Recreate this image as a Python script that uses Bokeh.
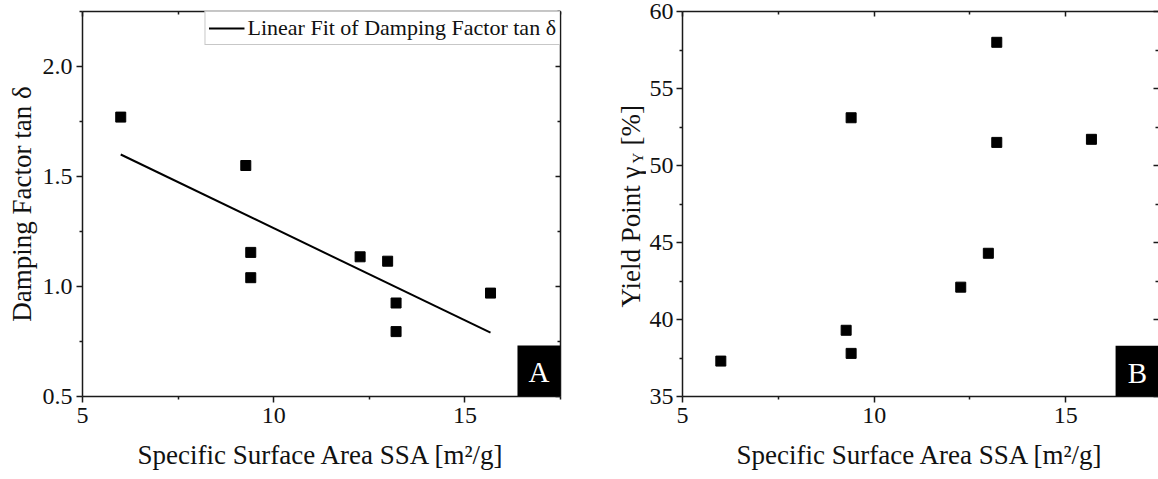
from bokeh.plotting import figure
from bokeh.models import (Range1d, LinearAxis, FixedTicker, PrintfTickFormatter,
                          Legend, LegendItem, BoxAnnotation, Label,
                          CustomLabelingPolicy)
from bokeh.layouts import row
from bokeh.embed import file_html
from bokeh.resources import INLINE
import math

# ---------------- data ----------------
ssa = [6.0, 9.27, 9.4, 9.4, 12.26, 12.98, 13.2, 13.2, 15.67]
tan_delta = [1.77, 1.55, 1.155, 1.04, 1.135, 1.115, 0.925, 0.795, 0.97]
yield_point = [37.3, 39.3, 53.1, 37.8, 42.1, 44.3, 58.0, 51.5, 51.7]
fit_x = [6.0, 15.67]
fit_y = [1.60, 0.79]

x_ticks = [5, 10, 15]
x_minor = [7.5, 12.5, 17.5]
a_ticks = [0.5, 1.0, 1.5, 2.0]
a_minor = [0.75, 1.25, 1.75, 2.25]
b_ticks = [35, 40, 45, 50, 55, 60]
b_minor = [37.5, 42.5, 47.5, 52.5, 57.5]

x_title = "Specific Surface Area SSA [m\u00b2/g]"
a_title = "Damping Factor tan \u03b4"
b_title_parts = ["Yield Point \u03b3", "Y", "[%]"]
legend_label = "Linear Fit of Damping Factor tan \u03b4"

FONT = "Liberation Serif"
AX = "#1a1a1a"
TXT = "#111111"

NO_LABELS = CustomLabelingPolicy(code="""
const n = indices.size
for (let i = 0; i < n; i++) { indices.unset(i) }
return indices
""")


def main_axis(ax, ticks, minor, fmt=None):
    ax.ticker = FixedTicker(ticks=ticks, minor_ticks=minor)
    if fmt:
        ax.formatter = PrintfTickFormatter(format=fmt)
    ax.axis_line_color = AX
    ax.axis_line_width = 1.5
    ax.major_tick_line_color = AX
    ax.major_tick_line_width = 1.5
    ax.minor_tick_line_color = AX
    ax.minor_tick_line_width = 1.5
    ax.major_tick_out = 6
    ax.major_tick_in = 0
    ax.minor_tick_out = 3
    ax.minor_tick_in = 0
    ax.major_label_text_font = FONT
    ax.major_label_text_font_size = "24px"
    ax.major_label_text_color = TXT
    ax.axis_label_text_font = FONT
    ax.axis_label_text_font_size = "27px"
    ax.axis_label_text_font_style = "normal"
    ax.axis_label_text_color = TXT


def mirror_axis(ticks, minor, show_line=True):
    ax = LinearAxis(ticker=FixedTicker(ticks=ticks, minor_ticks=minor))
    ax.major_label_policy = NO_LABELS
    ax.major_label_text_font_size = "0px"
    ax.major_label_standoff = 0
    ax.axis_line_color = AX if show_line else None
    ax.axis_line_width = 1.5
    ax.major_tick_line_color = AX
    ax.major_tick_line_width = 1.5
    ax.minor_tick_line_color = AX
    ax.minor_tick_line_width = 1.5
    ax.major_tick_in = 5
    ax.major_tick_out = 0
    ax.minor_tick_in = 3
    ax.minor_tick_out = 0
    return ax


def base_fig(width, xr, yr, left, right, top):
    p = figure(width=width, height=479, x_range=xr, y_range=yr,
               output_backend="svg", toolbar_location=None,
               min_border_left=left, min_border_right=right,
               min_border_top=top, min_border_bottom=83)
    p.grid.visible = False
    p.outline_line_color = None
    p.background_fill_color = "white"
    p.border_fill_color = "white"
    return p


# ---------------- panel A ----------------
pa = base_fig(580, Range1d(5, 17.5), Range1d(0.5, 2.25), 82, 20, 11)
main_axis(pa.xaxis[0], x_ticks, x_minor)
main_axis(pa.yaxis[0], a_ticks, a_minor, "%.1f")
pa.xaxis[0].axis_label = x_title
pa.xaxis[0].major_label_standoff = 5
pa.xaxis[0].axis_label_standoff = 14
pa.yaxis[0].axis_label = a_title
pa.yaxis[0].major_label_standoff = 4
pa.yaxis[0].axis_label_standoff = 3
pa.add_layout(mirror_axis(x_ticks, x_minor), "above")
pa.add_layout(mirror_axis(a_ticks, a_minor), "right")

fit_r = pa.line(fit_x, fit_y, line_color="black", line_width=2)
pa.scatter(ssa, tan_delta, marker="square", size=10, color="black")

legend = Legend(items=[LegendItem(label=legend_label, renderers=[fit_r])],
                location="top_right", margin=0, padding=3, spacing=0,
                glyph_width=36, glyph_height=24, label_height=24,
                label_standoff=3,
                label_text_font=FONT, label_text_font_size="22px",
                label_text_color=TXT,
                border_line_color="#909090", border_line_width=1,
                background_fill_color="white", background_fill_alpha=1)
pa.add_layout(legend)

pa.add_layout(BoxAnnotation(left=16.375, right=17.5, bottom=0.5, top=0.732,
                            fill_color="black", fill_alpha=1, line_color=None))
pa.add_layout(Label(x=16.94, y=0.61, text="A", text_color="white",
                    text_align="center", text_baseline="middle",
                    text_font=FONT, text_font_size="29px"))

# ---------------- y title strip of panel B (frame spans pixel rows 11..396) ----------------
pt = figure(width=66, height=479, x_range=Range1d(0, 66), y_range=Range1d(0, 385),
            output_backend="svg", toolbar_location=None,
            x_axis_location=None, y_axis_location=None,
            min_border_left=0, min_border_right=0,
            min_border_top=11, min_border_bottom=83)
pt.grid.visible = False
pt.outline_line_color = None
ang = math.pi / 2
pt.add_layout(Label(x=50, y=89, text=b_title_parts[0], angle=ang,
                    text_align="left", text_baseline="alphabetic",
                    text_font=FONT, text_font_size="27px", text_color=TXT))
pt.add_layout(Label(x=57, y=233, text=b_title_parts[1], angle=ang,
                    text_align="left", text_baseline="alphabetic",
                    text_font=FONT, text_font_size="15px", text_color=TXT))
pt.add_layout(Label(x=50, y=251, text=b_title_parts[2], angle=ang,
                    text_align="left", text_baseline="alphabetic",
                    text_font=FONT, text_font_size="27px", text_color=TXT))

# ---------------- panel B ----------------
pb = base_fig(512, Range1d(5, 17.42), Range1d(35, 60), 36, 0, 9)
main_axis(pb.xaxis[0], x_ticks, x_minor)
main_axis(pb.yaxis[0], b_ticks, b_minor)
pb.xaxis[0].axis_label = x_title
pb.xaxis[0].major_label_standoff = 5
pb.xaxis[0].axis_label_standoff = 14
pb.yaxis[0].major_label_standoff = 3
pb.add_layout(mirror_axis(x_ticks, x_minor), "above")
pb.add_layout(mirror_axis(b_ticks, b_minor, show_line=False), "right")

pb.scatter(ssa, yield_point, marker="square", size=10, color="black")

pb.add_layout(BoxAnnotation(left=16.3, right=17.42, bottom=35, top=38.29,
                            fill_color="black", fill_alpha=1, line_color=None))
pb.add_layout(Label(x=16.87, y=36.55, text="B", text_color="white",
                    text_align="center", text_baseline="middle",
                    text_font=FONT, text_font_size="29px"))

layout = row(pa, pt, pb, spacing=0)
open("out.html", "w").write(file_html(layout, INLINE))
